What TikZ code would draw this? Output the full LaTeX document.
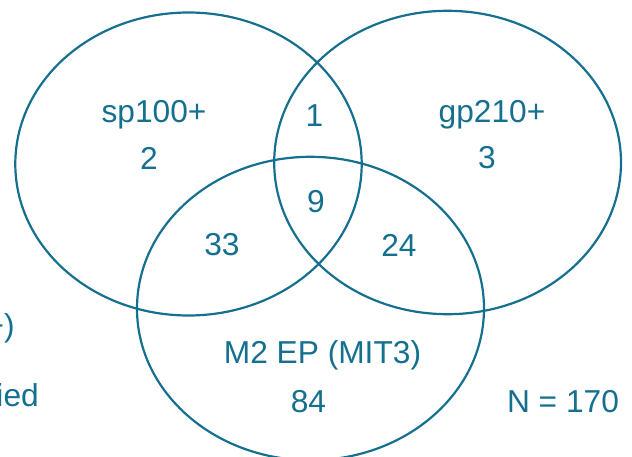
\documentclass[tikz,border=0pt]{standalone}
\usepackage{fontspec}
\setmainfont{Liberation Sans}
\definecolor{teal1}{HTML}{15708F}
\begin{document}
\begin{tikzpicture}[x=1pt,y=-1pt,
  ring/.style={draw=teal1,line width=2.2pt},
  lbl/.style={text=teal1,font=\fontsize{31.7}{36}\selectfont,inner sep=0pt,align=center}]
\useasboundingbox (0,0) rectangle (632,457);
\clip (0,0) rectangle (632,457);
\draw[ring] (188.5,164) ellipse [x radius=173.2, y radius=151.5];
\draw[ring] (447.6,162.5) ellipse [x radius=173.4, y radius=151.7];
\draw[ring] (310.5,308.5) ellipse [x radius=173.5, y radius=151.7];
\node[lbl] (sp) at (154,115) {sp100+};
\node[lbl] (spn) at (149,158) {2};
\node[lbl] (gp) at (492,115) {gp210+};
\node[lbl] (gpn) at (487,158) {3};
\node[lbl] (ab) at (314.5,116) {1};
\node[lbl] (abc) at (316,202) {9};
\node[lbl] (ac) at (222,245) {33};
\node[lbl] (bc) at (399,245) {24};
\node[lbl] (m2) at (322.5,355) {M2 EP (MIT3)};
\node[lbl] (m2n) at (308.5,402) {84};
\node[lbl] (n) at (563,402) {N = 170};
\node[lbl,anchor=east] (cut1) at (15,328) {+)};
\node[lbl,anchor=east] (cut2) at (39,395) {ied};
\end{tikzpicture}
\end{document}
